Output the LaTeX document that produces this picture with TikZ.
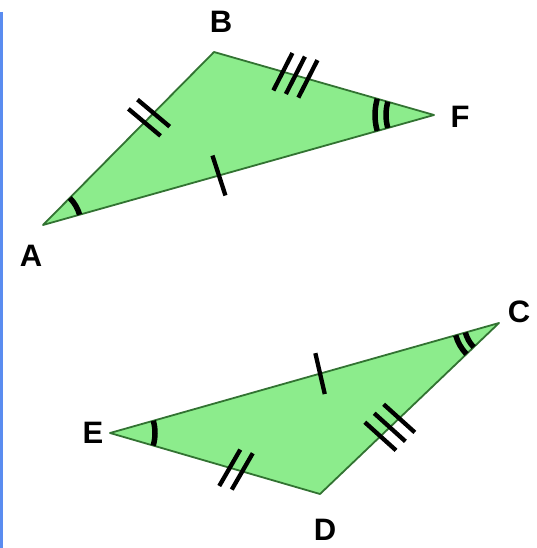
\documentclass[tikz,border=0pt]{standalone}
\usepackage{fontspec}
\setmainfont{Liberation Sans}
\usetikzlibrary{calc}
\tikzset{
  tri/.style={fill={rgb,255:red,140;green,236;blue,140}, draw={rgb,255:red,50;green,115;blue,50}, line width=1.8pt, line join=round},
  tickmark/.style={draw=black, line width=4.3pt},
  arcmark/.style={draw=black, line width=5.5pt},
  lbl/.style={font=\fontsize{31}{31}\selectfont\bfseries, inner sep=0pt}
}
\newcommand{\edgeticks}[5]{% #1,#2 ends, #3 fraction, #4 angle, #5 list of offsets
  \coordinate (tc) at ($(#1)!#3!(#2)$);
  \foreach \k in {#5} {
    \pgfmathsetmacro{\off}{\k*13}
    \draw[tickmark] ($(tc)!\off pt!(#2)$) ++(#4:-21) -- ++(#4:42);
  }
}
\newcommand{\anglearc}[4]{% #1 vertex, #2 start, #3 end, #4 radius
  \draw[arcmark] ($(#1)+(#2:#4)$) arc[start angle=#2, end angle=#3, radius=#4];
}
\begin{document}
\begin{tikzpicture}[x=1pt, y=-1pt]
\useasboundingbox (0,0) rectangle (537,548);
\fill[white] (0,0) rectangle (537,548);
\draw[line width=3pt, draw={rgb,255:red,90;green,140;blue,240}] (1.5,12) -- (1.5,548);

% top triangle
\coordinate (A) at (43,225);
\coordinate (B) at (214,52);
\coordinate (F) at (434,115);
\draw[tri] (A) -- (B) -- (F) -- cycle;
\edgeticks{A}{B}{0.62}{40}{-0.5,0.5}
\edgeticks{B}{F}{0.37}{-63}{-1,0,1}
\edgeticks{A}{F}{0.45}{72}{0}
\anglearc{A}{-45.3}{-15.7}{38}
\anglearc{F}{164.3}{196}{48}
\anglearc{F}{164.3}{196}{59}

% bottom triangle
\coordinate (E) at (110,433);
\coordinate (D) at (320,494);
\coordinate (C) at (499,323);
\draw[tri] (E) -- (D) -- (C) -- cycle;
\edgeticks{E}{C}{0.54}{77}{0}
\edgeticks{D}{C}{0.39}{42}{-1,0,1}
\edgeticks{E}{D}{0.6}{-60}{-0.5,0.5}
\anglearc{E}{-15.8}{16.2}{45}
\anglearc{C}{136.3}{164.2}{35}
\anglearc{C}{136.3}{164.2}{45}

% labels
\node[lbl] (lA) at (31,256) {A};
\node[lbl] (lB) at (221,22) {B};
\node[lbl] (lF) at (460,117) {F};
\node[lbl] (lC) at (519,312) {C};
\node[lbl] (lE) at (93,433) {E};
\node[lbl] (lD) at (325,530) {D};
\end{tikzpicture}
\end{document}
